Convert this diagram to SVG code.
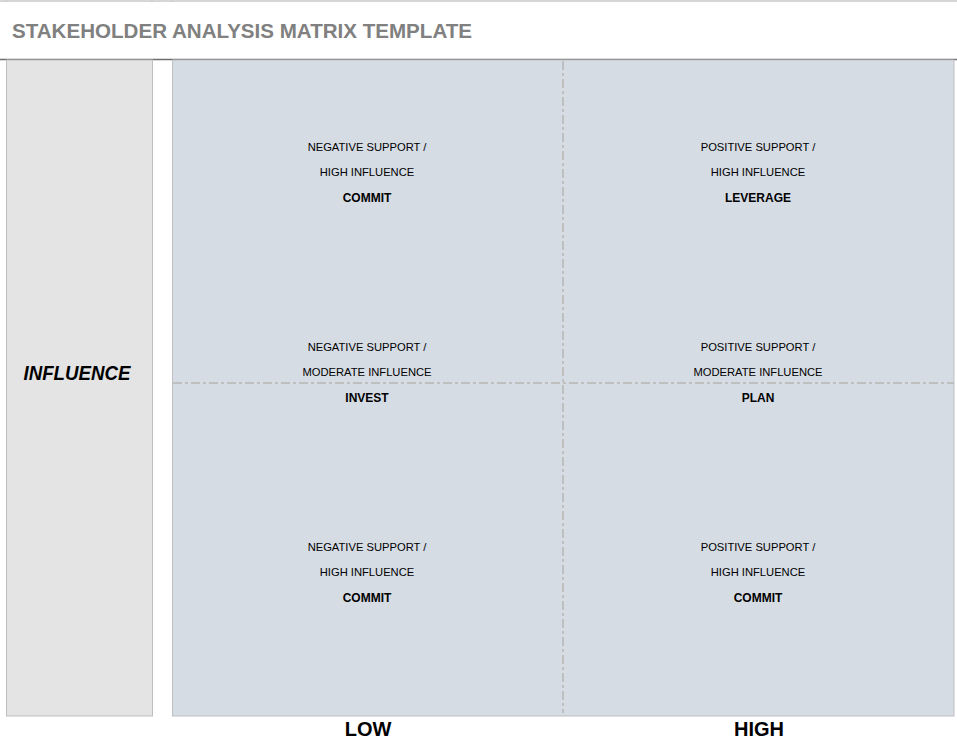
<svg xmlns="http://www.w3.org/2000/svg" width="957" height="742" viewBox="0 0 957 742">
<style>
.t{font-family:"Liberation Sans",Arial,sans-serif;fill:#000;text-anchor:middle}
.r{font-size:11.2px}
.b{font-size:12px;font-weight:bold}
.ax{font-size:20px;font-weight:bold}
.div{stroke:#bfbfbf;stroke-width:2;stroke-dasharray:9 3 3 3;fill:none}
</style>
<rect width="957" height="742" fill="#fff"/>
<g id="header">
<line x1="0" y1="1" x2="957" y2="1" stroke="#c8c8c8" stroke-width="1.5"/>
<line x1="6" y1="0" x2="6" y2="2" stroke="#c8c8c8"/>
<line x1="152" y1="0" x2="152" y2="2" stroke="#c8c8c8"/>
<line x1="172" y1="0" x2="172" y2="2" stroke="#c8c8c8"/>
<text x="12" y="38" font-family="'Liberation Sans',Arial,sans-serif" font-size="21" font-weight="bold" fill="#808080" textLength="460" lengthAdjust="spacingAndGlyphs">STAKEHOLDER ANALYSIS MATRIX TEMPLATE</text>
<line x1="0" y1="59.5" x2="957" y2="59.5" stroke="#6e6e6e" stroke-width="1.5"/>
</g>
<g id="influence-axis">
<rect x="6.5" y="60" width="146" height="656" fill="#e4e4e4" stroke="#bfbfbf" stroke-width="1"/>
<text class="t ax" x="77" y="380" font-style="italic" textLength="107" lengthAdjust="spacingAndGlyphs">INFLUENCE</text>
</g>
<g id="matrix">
<rect x="172.5" y="60" width="781.5" height="656" fill="#d6dce4" stroke="#bfbfbf" stroke-width="1"/>
</g>
<g id="connectors">
<line class="div" x1="563" y1="61" x2="563" y2="713"/>
<line class="div" x1="173" y1="383" x2="954" y2="383"/>
</g>
<g id="q-top-left">
<text class="t r" x="367" y="151">NEGATIVE SUPPORT /</text>
<text class="t r" x="367" y="176">HIGH INFLUENCE</text>
<text class="t b" x="367" y="202">COMMIT</text>
</g>
<g id="q-top-right">
<text class="t r" x="758" y="151">POSITIVE SUPPORT /</text>
<text class="t r" x="758" y="176">HIGH INFLUENCE</text>
<text class="t b" x="758" y="202">LEVERAGE</text>
</g>
<g id="q-mid-left">
<text class="t r" x="367" y="351">NEGATIVE SUPPORT /</text>
<text class="t r" x="367" y="376">MODERATE INFLUENCE</text>
<text class="t b" x="367" y="402">INVEST</text>
</g>
<g id="q-mid-right">
<text class="t r" x="758" y="351">POSITIVE SUPPORT /</text>
<text class="t r" x="758" y="376">MODERATE INFLUENCE</text>
<text class="t b" x="758" y="402">PLAN</text>
</g>
<g id="q-bottom-left">
<text class="t r" x="367" y="551">NEGATIVE SUPPORT /</text>
<text class="t r" x="367" y="576">HIGH INFLUENCE</text>
<text class="t b" x="367" y="602">COMMIT</text>
</g>
<g id="q-bottom-right">
<text class="t r" x="758" y="551">POSITIVE SUPPORT /</text>
<text class="t r" x="758" y="576">HIGH INFLUENCE</text>
<text class="t b" x="758" y="602">COMMIT</text>
</g>
<g id="support-axis">
<text class="t ax" x="368" y="736">LOW</text>
<text class="t ax" x="759" y="736">HIGH</text>
</g>
</svg>
